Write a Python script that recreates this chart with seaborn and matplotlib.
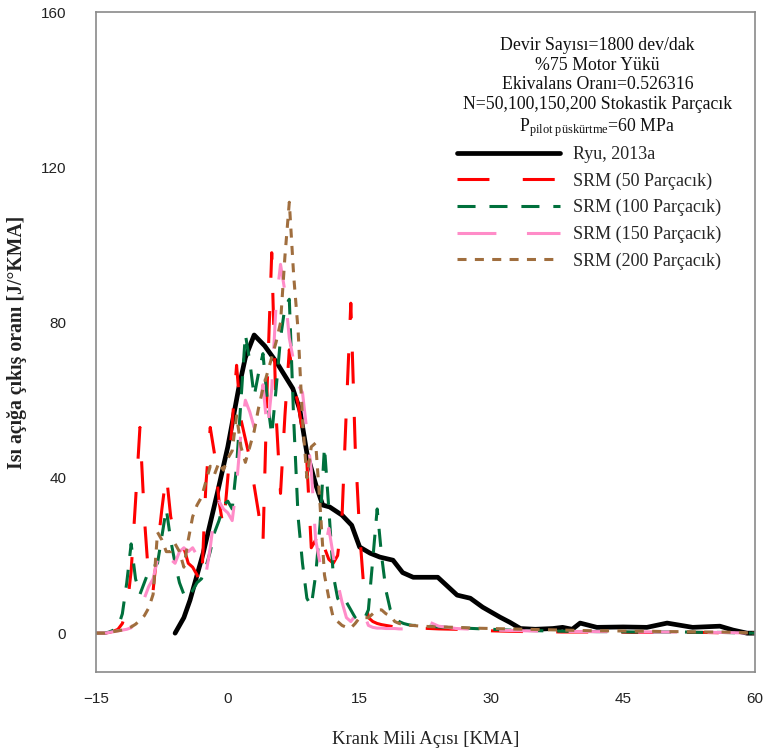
import matplotlib
matplotlib.use("Agg")
import matplotlib.pyplot as plt
import seaborn as sns
import pandas as pd
from matplotlib.ticker import FixedLocator

# ---------------- data ----------------
ANGLE = [-15, -14.5, -14, -13.5, -13, -12.5, -12, -11.5, -11, -10.5,
         -10, -9.5, -9, -8.5, -8, -7.5, -7, -6.5, -6, -5.5,
         -5, -4.5, -4, -3.5, -3, -2.5, -2, -1.5, -1, -0.5,
         0, 0.5, 1, 1.5, 2, 2.5, 3, 3.5, 4, 4.5,
         5, 5.5, 6, 6.5, 7, 7.5, 8, 8.5, 9, 9.5,
         10, 10.5, 11, 11.5, 12, 12.5, 13, 13.5, 14, 14.5,
         15, 15.5, 16, 16.5, 17, 17.5, 18, 18.5, 19, 19.5,
         20, 20.5, 21, 21.5, 22,
         23, 24, 26, 28, 30, 32, 34, 36, 38, 40,
         42, 44, 46, 48, 50, 52, 54, 56, 58, 60]

SRM50 = [0, 0, 0, 0.2, 0.5, 1, 2.5, 6, 16, 34,
         53, 30, 14, 11, 22, 32, 41, 30, 25, 24,
         22, 18, 17, 15, 12, 38, 53, 46, 34, 27,
         40, 54, 69, 55, 50, 45, 38, 31, 23, 65,
         98, 56, 36, 56, 73, 64, 59, 52, 44, 22,
         24, 27, 22, 19, 18, 20, 30, 58, 85, 48,
         26, 11, 4, 3, 2.5, 2.2, 2, 1.8, 1.6, 1.5,
         1.6, 1.5, 1.4, 1.4, 1.3,
         1.2, 1.1, 1.0, 0.8, 0.6, 0.5, 0.4, 0.4, 0.3, 0.3,
         0.3, 0.3, 0.2, 0.2, 0.2, 0.2, 0.2, 0.1, 0.1, 0]

SRM100 = [0, 0, 0, 0.3, 0.8, 1.5, 5, 13, 23, 14,
          10, 13, 16, 17, 18, 25, 32, 24, 18, 13,
          10, 9, 11, 13, 14, 17, 21, 26, 29, 33,
          34, 32, 43, 60, 77, 70, 61, 67, 72, 60,
          51, 63, 76, 84, 86, 55, 30, 18, 9, 7,
          15, 28, 48, 32, 15, 9, 7, 8, 6, 4,
          3, 3.5, 6, 19, 32, 20, 11, 6, 4, 3,
          2.5, 2.2, 2, 2, 1.9,
          1.8, 1.6, 1.4, 1.2, 1.0, 0.8, 0.7, 0.6, 0.5, 0.5,
          0.4, 0.4, 0.3, 0.3, 0.3, 0.3, 0.2, 0.2, 0.1, 0]

SRM150 = [0, 0, 0, 0.2, 0.4, 0.6, 0.8, 1.0, 1.4, 3,
          6, 9, 12, 14, 19, 22, 21, 19, 18, 21,
          22, 21, 22, 20, 18, 15, 22, 31, 34, 32,
          31, 29, 38, 52, 60, 57, 53, 56, 64, 52,
          63, 85, 95, 88, 76, 70, 64, 62, 52, 42,
          24, 18, 21, 27, 20, 13, 8, 4, 3, 4.5,
          7, 5, 2, 1.5, 1.3, 1.3, 1.2, 1.2, 1.2, 1.1,
          1.1, 1.1, 1.1, 1.0, 1.0,
          2.8, 1.8, 1.2, 1.0, 0.8, 0.7, 0.6, 0.5, 0.5, 0.4,
          0.4, 0.4, 0.3, 0.3, 0.3, 0.3, 0.2, 0.2, 0.1, 0]

SRM200 = [0, 0, 0, 0.2, 0.4, 0.6, 0.8, 1.2, 1.6, 2.3,
          3.3, 4.5, 6.5, 10, 26, 24, 21, 21, 23, 21,
          17, 24, 30, 33, 35, 39, 43, 41, 44, 42,
          45, 47, 56, 48, 44, 48, 52, 58, 63, 67,
          71, 75, 80, 97, 111, 92, 78, 55, 40, 48,
          49, 33, 15, 9, 4, 3, 2, 1.5, 1.3, 2.5,
          4, 4, 4, 5, 6, 6, 5, 4.5, 3, 2.5,
          2.2, 2, 2, 1.9, 1.8,
          1.7, 1.6, 1.5, 1.3, 1.2, 1.1, 1.0, 0.9, 0.8, 0.7,
          0.6, 0.6, 0.5, 0.5, 0.4, 0.4, 0.3, 0.3, 0.2, 0]

RYU_X = [-6.0, -5.0, -4.3, -2.8, -1.2, 0.0, 1.2, 2.0, 3.0, 4.2,
         5.6, 7.4, 8.2, 9.0, 10.1, 10.8, 11.6, 13.0, 14.1, 15.0,
         16.2, 17.3, 18.8, 19.9, 21.1, 23.9, 26.1, 27.6, 29.0, 31.0,
         32.1, 33.3, 35.0, 37.0, 38.1, 39.2, 40.1, 42.0, 45.0, 47.7,
         50.0, 52.9, 56.0, 57.5, 59.1, 60.0]
RYU_Y = [0, 4, 8.5, 20.6, 36, 48, 62.6, 71, 76.8, 74,
         69.6, 63, 57.5, 46.4, 37.6, 33, 32.5, 30.4, 27.8, 22.2,
         20.6, 19.6, 18.8, 15.6, 14.4, 14.4, 9.8, 9.0, 6.7, 4.1,
         2.8, 1.2, 1.0, 1.2, 1.5, 1.0, 2.6, 1.5, 1.6, 1.5,
         2.6, 1.5, 1.8, 0.8, 0.0, 0.0]

LABELS = ["Ryu, 2013a", "SRM (50 Parçacık)", "SRM (100 Parçacık)",
          "SRM (150 Parçacık)", "SRM (200 Parçacık)"]
X_TICKS = [-15, 0, 15, 30, 45, 60]
Y_TICKS = [0, 40, 80, 120, 160]
INFO = ["Devir Sayısı=1800 dev/dak", "%75 Motor Yükü",
        "Ekivalans Oranı=0.526316",
        "N=50,100,150,200 Stokastik Parçacık",
        r"P$_{\mathrm{pilot\ püskürtme}}$=60 MPa"]

# ---------------- style ----------------
sns.set_style("white")
plt.rcParams['font.family'] = ['Liberation Serif', 'DejaVu Serif']
plt.rcParams['mathtext.fontset'] = 'custom'
plt.rcParams['mathtext.rm'] = 'Liberation Serif'
plt.rcParams['mathtext.it'] = 'Liberation Serif:italic'
plt.rcParams['mathtext.bf'] = 'Liberation Serif:bold'
plt.rcParams['lines.scale_dashes'] = False

fig = plt.figure(figsize=(7.65, 7.54), dpi=100)
W, H = 765, 754
L, R, T, B = 96, 755, 12, 672
ax = fig.add_axes([L / W, 1 - B / H, (R - L) / W, (B - T) / H])

series = [
    (RYU_X, RYU_Y, "black", 3.4, None),
    (ANGLE, SRM50, "#FF0000", 2.2, (23, 24)),
    (ANGLE, SRM100, "#00703C", 2.2, (13, 10)),
    (ANGLE, SRM150, "#FF8CC8", 2.2, (28, 22)),
    (ANGLE, SRM200, "#A06E3E", 2.2, (6.5, 6)),
]
for (xs, ys, col, lw, dash), lab in zip(series, LABELS):
    df = pd.DataFrame({"x": xs, "y": ys})
    sns.lineplot(data=df, x="x", y="y", ax=ax, color=col, lw=lw,
                 label=lab, sort=False, estimator=None)
    line = ax.lines[-1]
    line.set_solid_joinstyle("round")
    if dash is not None:
        line.set_dashes(dash)
        line.set_dash_capstyle("butt")

ax.set_xlim(-15, 60)
ax.set_ylim(-10, 160)
ax.xaxis.set_major_locator(FixedLocator(X_TICKS))
ax.yaxis.set_major_locator(FixedLocator(Y_TICKS))
ax.yaxis.set_minor_locator(FixedLocator([20, 60, 100, 140]))

spine_col = "#8a8a8a"
for s in ax.spines.values():
    s.set_visible(True)
    s.set_color(spine_col)
    s.set_linewidth(1.2)
ax.tick_params(axis="both", which="both", direction="out", length=4.5,
               width=1.0, color=spine_col, labelcolor="#222222",
               labelsize=11)
ax.tick_params(axis="x", which="major", pad=10)
ax.tick_params(axis="y", which="major", pad=17)
for lab in ax.get_xticklabels() + ax.get_yticklabels():
    lab.set_fontfamily(["Liberation Sans", "DejaVu Sans"])

ax.set_xlabel("Krank Mili Açısı [KMA]", fontsize=13.4, color="#222222")
ax.set_ylabel("Isı açığa çıkış oranı [J/°KMA]", fontsize=14.2,
              color="#222222", fontweight="bold")
ax.xaxis.set_label_coords(0.5, (B - 731) / (B - T))
ax.yaxis.set_label_coords((27 - L) / (R - L), 0.5)

ax.text(0.761, (B - 37) / (B - T), "\n".join(INFO), transform=ax.transAxes,
        ha="center", va="top", fontsize=12.8, linespacing=1.2,
        color="#111111")

ax.legend(loc="upper left", bbox_to_anchor=((457 - L) / (R - L), (B - 146) / (B - T)),
          frameon=False, fontsize=13, handlelength=5.7, handletextpad=0.72,
          labelspacing=0.52, borderaxespad=0, borderpad=0)

fig.savefig("out.png", dpi=100)
